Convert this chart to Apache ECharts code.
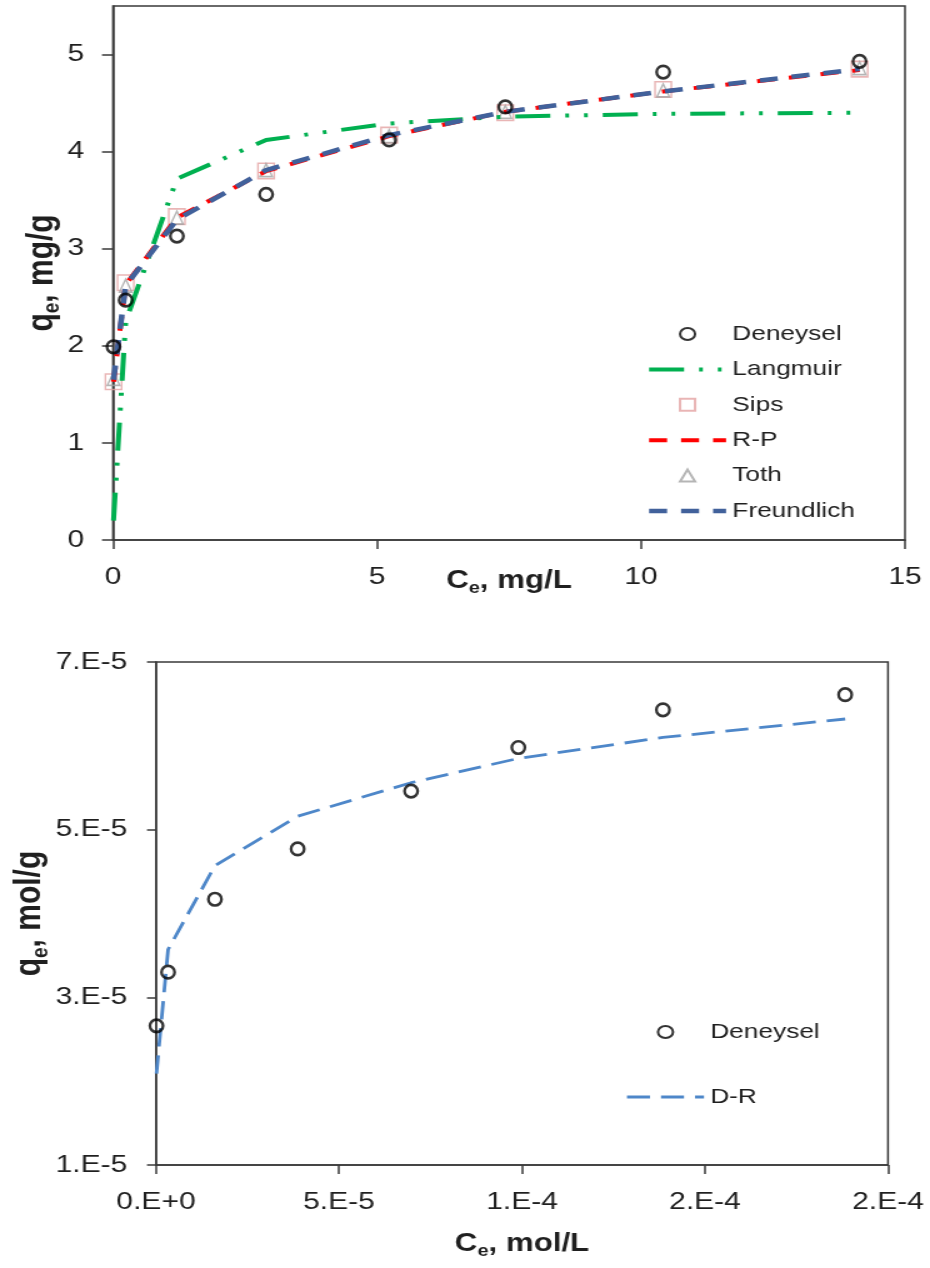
<!DOCTYPE html>
<html>
<head>
<meta charset="utf-8">
<title>Deneysel izoterm</title>
<script src="https://cdn.jsdelivr.net/npm/echarts@6/dist/echarts.min.js"></script>
<style>
    html, body { margin: 0; padding: 0; background: #fff; overflow: hidden; }
    /* 原图整体横向拉伸约 1.25 倍 */
    #main { width: 744px; height: 1268px; transform: scaleX(1.25); transform-origin: 0 0; }
</style>
</head>
<body>
<div id="main"></div>
<script>
var FONT = 'Liberation Sans, Arial, sans-serif'
var TEXT_COLOR = '#1f1f1f'
var AXIS_COLOR = '#3a3a3a'

// 上图 (mg/L, mg/g)
var ceMg = [0.01, 0.24, 1.21, 2.9, 5.23, 7.43, 10.42, 14.14]
var qDeneyselMg = [1.99, 2.47, 3.13, 3.56, 4.12, 4.46, 4.82, 4.93]
var qLangmuir = [0.20, 2.25, 3.72, 4.12, 4.29, 4.36, 4.39, 4.40]
var qSips = [1.63, 2.65, 3.33, 3.80, 4.17, 4.40, 4.64, 4.85]
var qRP = [1.63, 2.63, 3.32, 3.80, 4.16, 4.41, 4.62, 4.84]
var qToth = [1.66, 2.62, 3.32, 3.81, 4.16, 4.41, 4.63, 4.86]
var qFreundlich = [1.65, 2.62, 3.30, 3.81, 4.17, 4.41, 4.62, 4.85]
var xTicksMg = [0, 5, 10, 15]
var yTicksMg = [0, 1, 2, 3, 4, 5]

// 下图 (mol/L, mol/g)
var ceMol = [1.3e-7, 3.3e-6, 1.61e-5, 3.87e-5, 6.97e-5, 9.9e-5, 1.385e-4, 1.883e-4]
var qDeneyselMol = [2.66e-5, 3.30e-5, 4.17e-5, 4.77e-5, 5.46e-5, 5.98e-5, 6.43e-5, 6.61e-5]
var qDR = [2.09e-5, 3.57e-5, 4.57e-5, 5.16e-5, 5.56e-5, 5.85e-5, 6.10e-5, 6.32e-5]
var xTicksMol = [0, 5e-5, 1e-4, 1.5e-4, 2e-4]
var xTickLabelsMol = ['0.E+0', '5.E-5', '1.E-4', '2.E-4', '2.E-4']
var yTicksMol = [1e-5, 3e-5, 5e-5, 7e-5]
var yTickLabelsMol = ['1.E-5', '3.E-5', '5.E-5', '7.E-5']

// 线型
var DASH_LANGMUIR = [28, 12, 3, 12, 3, 12]
var DASH_LONG = [14.4, 11.2]
var DASH_DR = [18.4, 8.8]

function pairs(xs, ys) {
    return xs.map(function (x, i) { return [x, ys[i]] })
}

/**
 * @description 按刻度值取对应的文字
 */
function pickLabel(ticks, labels) {
    return function (v) {
        var best = 0
        for (var i = 1; i < ticks.length; i++) {
            if (Math.abs(ticks[i] - v) < Math.abs(ticks[best] - v)) best = i
        }
        return labels[best]
    }
}

/**
 * @description 轴标题 (带下标 e)
 */
function nameStyle(size, subSize) {
    return {
        rich: {
            b: { fontFamily: FONT, fontSize: size, fontWeight: 'bold', color: TEXT_COLOR, lineHeight: size + 6 },
            s: { fontFamily: FONT, fontSize: subSize, fontWeight: 'bold', color: TEXT_COLOR, lineHeight: subSize + 1, verticalAlign: 'bottom' }
        }
    }
}

function valueAxis(cfg) {
    return {
        type: 'value',
        gridIndex: cfg.grid,
        min: cfg.min,
        max: cfg.max,
        name: cfg.name,
        nameLocation: 'middle',
        nameGap: cfg.nameGap,
        nameMoveOverlap: false,
        nameTextStyle: cfg.nameStyle,
        axisLine: { show: true, onZero: false, lineStyle: { color: AXIS_COLOR, width: 1.5 } },
        axisTick: { show: true, inside: false, length: cfg.tickLen, customValues: cfg.ticks, lineStyle: { color: AXIS_COLOR, width: 1.5 } },
        axisLabel: {
            customValues: cfg.ticks,
            formatter: cfg.formatter,
            fontFamily: FONT,
            fontSize: 24,
            lineHeight: 26,
            color: TEXT_COLOR,
            margin: cfg.margin
        },
        splitLine: { show: false }
    }
}

// 图例里的线条项: 隐藏中间的圆点
function lineItem(name, width, dash) {
    return { name: name, itemStyle: { opacity: 0 }, lineStyle: { width: width, type: dash } }
}

function legendBlock(items, left, top, gap) {
    return {
        orient: 'vertical',
        left: left,
        top: top,
        itemWidth: 61.6,
        itemHeight: 12,
        itemGap: gap,
        selectedMode: false,
        symbolKeepAspect: true,
        data: items,
        textStyle: { fontFamily: FONT, fontSize: 21, lineHeight: 26, color: TEXT_COLOR }
    }
}

var hollow = 'rgba(255,255,255,0)'

var option = {
    animation: false,
    backgroundColor: '#fff',
    grid: [
        { left: 90.4, top: 6, width: 633.6, height: 534, show: true, borderColor: AXIS_COLOR, borderWidth: 1.5 },
        { left: 124.8, top: 662, width: 585.6, height: 503, show: true, borderColor: AXIS_COLOR, borderWidth: 1.5 }
    ],
    xAxis: [
        valueAxis({
            grid: 0, min: 0, max: 15, ticks: xTicksMg, tickLen: 9, margin: 24,
            name: '{b|C}{s|e}{b|, mg/L}', nameGap: 26, nameStyle: nameStyle(25, 16)
        }),
        valueAxis({
            grid: 1, min: 0, max: 2e-4, ticks: xTicksMol, tickLen: 9, margin: 24,
            formatter: pickLabel(xTicksMol, xTickLabelsMol),
            name: '{b|C}{s|e}{b|, mol/L}', nameGap: 64, nameStyle: nameStyle(25, 16)
        })
    ],
    yAxis: [
        valueAxis({
            grid: 0, min: 0, max: 5.5, ticks: yTicksMg, tickLen: 8.8, margin: 23,
            name: '{b|q}{s|e}{b|, mg/g}', nameGap: 39, nameStyle: nameStyle(30, 19)
        }),
        valueAxis({
            grid: 1, min: 1e-5, max: 7e-5, ticks: yTicksMol, tickLen: 7.2, margin: 23,
            formatter: pickLabel(yTicksMol, yTickLabelsMol),
            name: '{b|q}{s|e}{b|, mol/g}', nameGap: 83, nameStyle: nameStyle(30, 19)
        })
    ],
    legend: [
        legendBlock([
            { name: 'Deneysel', icon: 'circle' },
            lineItem('Langmuir', 4, DASH_LANGMUIR),
            { name: 'Sips', icon: 'path://M0,0L10,0L10,10L0,10Z' },
            lineItem('R-P', 4, DASH_LONG),
            { name: 'Toth', icon: 'path://M5,0L10,10L0,10Z' },
            lineItem('Freundlich', 4.5, DASH_LONG)
        ], 512, 316, 9.4),
        legendBlock([
            { name: 'Deneysel', icon: 'circle' },
            lineItem('D-R', 2.8, DASH_DR)
        ], 495.2, 1014, 39)
    ],
    series: [
        {
            name: 'Sips', type: 'scatter', xAxisIndex: 0, yAxisIndex: 0,
            data: pairs(ceMg, qSips), symbol: 'rect', symbolSize: [13, 15.5],
            itemStyle: { color: hollow, borderColor: '#E3A3A3', borderWidth: 1.5 }, z: 2
        },
        {
            name: 'Toth', type: 'scatter', xAxisIndex: 0, yAxisIndex: 0,
            data: pairs(ceMg, qToth), symbol: 'triangle', symbolSize: [10, 13],
            itemStyle: { color: hollow, borderColor: '#A3A3A3', borderWidth: 1.5 }, z: 2
        },
        {
            name: 'Deneysel', type: 'scatter', xAxisIndex: 0, yAxisIndex: 0,
            data: pairs(ceMg, qDeneyselMg), symbol: 'circle', symbolSize: [10.5, 12.5],
            itemStyle: { color: hollow, borderColor: '#000', borderWidth: 2.5 }, z: 4
        },
        {
            name: 'Langmuir', type: 'line', xAxisIndex: 0, yAxisIndex: 0,
            data: pairs(ceMg, qLangmuir), symbol: 'none',
            itemStyle: { color: '#00B050' },
            lineStyle: { color: '#00B050', width: 4, type: DASH_LANGMUIR }, z: 3
        },
        {
            name: 'R-P', type: 'line', xAxisIndex: 0, yAxisIndex: 0,
            data: pairs(ceMg, qRP), symbol: 'none',
            itemStyle: { color: '#FF0000' },
            lineStyle: { color: '#FF0000', width: 4, type: DASH_LONG }, z: 3
        },
        {
            name: 'Freundlich', type: 'line', xAxisIndex: 0, yAxisIndex: 0,
            data: pairs(ceMg, qFreundlich), symbol: 'none',
            itemStyle: { color: '#41619B' },
            lineStyle: { color: '#41619B', width: 4.5, type: DASH_LONG }, z: 3
        },
        {
            name: 'Deneysel', type: 'scatter', xAxisIndex: 1, yAxisIndex: 1,
            data: pairs(ceMol, qDeneyselMol), symbol: 'circle', symbolSize: [10.5, 12.5],
            itemStyle: { color: hollow, borderColor: '#000', borderWidth: 2.5 }, z: 4
        },
        {
            name: 'D-R', type: 'line', xAxisIndex: 1, yAxisIndex: 1,
            data: pairs(ceMol, qDR), symbol: 'none',
            itemStyle: { color: '#4E87C9' },
            lineStyle: { color: '#4E87C9', width: 2.8, type: DASH_DR }, z: 3
        }
    ]
}

var chart = echarts.init(document.getElementById('main'), null, { renderer: 'canvas' })
chart.setOption(option)
</script>
</body>
</html>
